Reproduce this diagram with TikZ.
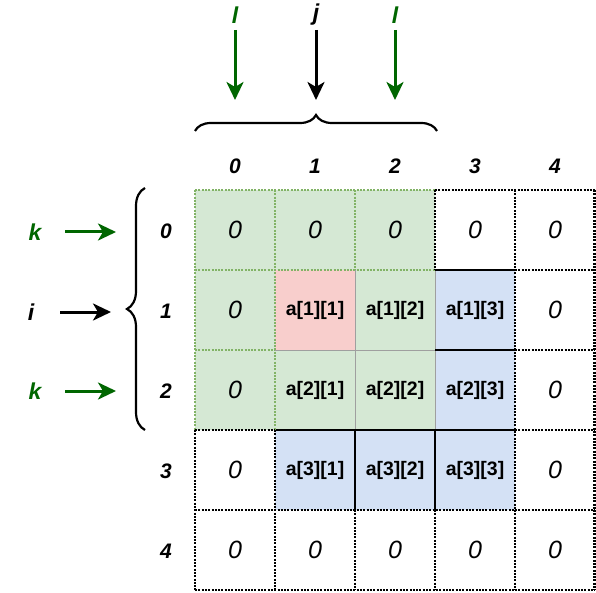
\documentclass[tikz,border=0pt]{standalone}
\usepackage{fontspec}
\setmainfont{Liberation Sans}
\usetikzlibrary{arrows.meta,decorations.pathreplacing}
\definecolor{dgreen}{HTML}{006600}
\definecolor{gfill}{HTML}{D5E8D4}
\definecolor{gline}{HTML}{82B366}
\definecolor{pfill}{HTML}{F8CECC}
\definecolor{bfill}{HTML}{D4E1F5}
\begin{document}
\begin{tikzpicture}[x=1pt,y=-1pt,
  cell/.style={minimum size=80pt, inner sep=0pt, outer sep=0pt, anchor=center},
  zero/.style={font=\fontsize{25}{30}\selectfont\itshape},
  aval/.style={font=\fontsize{19.5}{23}\selectfont\bfseries},
  idx/.style={font=\fontsize{21}{25}\selectfont\bfseries\itshape},
  var/.style={font=\fontsize{23}{27}\selectfont\bfseries\itshape},
  gd/.style={draw=gline, line width=2.6pt, dash pattern=on 2pt off 1.3pt},
  bd/.style={draw=black, line width=2.6pt, dash pattern=on 2pt off 1.3pt},
  bs/.style={draw=black, line width=1.8pt},
  gs/.style={draw=gray!75, line width=1pt},
  arr/.style={line width=3pt, -{Stealth[length=18pt,width=17pt,inset=5pt]}},
  brc/.style={line width=2.2pt, decorate, decoration={brace, amplitude=#1}}
]
\useasboundingbox (0,0) rectangle (596,593);
% white cells
\foreach \r/\c in {0/3,0/4,1/4,2/4,3/0,3/4,4/0,4/1,4/2,4/3,4/4}
  \node[cell, zero] (c\r\c) at ({235+80*\c},{230+80*\r}) {0};
% green cells with zeros
\foreach \r/\c in {0/0,0/1,0/2,1/0,2/0}
  \node[cell, zero, fill=gfill] (c\r\c) at ({235+80*\c},{230+80*\r}) {0};
% green value cells
\node[cell, aval, fill=gfill] (c12) at (395,310) {a[1][2]};
\node[cell, aval, fill=gfill] (c21) at (315,390) {a[2][1]};
\node[cell, aval, fill=gfill] (c22) at (395,390) {a[2][2]};
% pink
\node[cell, aval, fill=pfill] (c11) at (315,310) {a[1][1]};
% blue cells
\node[cell, aval, fill=bfill] (c13) at (475,310) {a[1][3]};
\node[cell, aval, fill=bfill] (c23) at (475,390) {a[2][3]};
\node[cell, aval, fill=bfill] (c31) at (315,470) {a[3][1]};
\node[cell, aval, fill=bfill] (c32) at (395,470) {a[3][2]};
\node[cell, aval, fill=bfill] (c33) at (475,470) {a[3][3]};
% thin gray borders
\path[gs] (275,350) -- (435,350) (355,270) -- (355,430) (435,270) -- (435,430);
% black solid borders
\path[bs] (435,270) -- (515,270) (435,350) -- (515,350) (275,430) -- (515,430)
          (355,430) -- (355,510) (435,430) -- (435,510);
% green dotted borders
\path[gd] (195,190) -- (435,190) (195,270) -- (435,270) (195,350) -- (275,350)
          (195,190) -- (195,430) (275,190) -- (275,430) (355,190) -- (355,270);
% black dotted borders
\path[bd] (435,190) -- (595,190) (515,270) -- (595,270) (515,350) -- (595,350)
          (195,430) -- (275,430) (515,430) -- (595,430) (195,510) -- (595,510)
          (195,590) -- (595,590)
          (435,190) -- (435,270) (515,190) -- (515,590) (594.7,190) -- (594.7,590)
          (195,430) -- (195,590) (275,430) -- (275,590) (355,510) -- (355,590)
          (435,510) -- (435,590);
% column indices
\foreach \c in {0,...,4}
  \node[idx] (col\c) at ({235+80*\c},166) {\c};
% row indices
\foreach \r in {0,...,4}
  \node[idx] (row\r) at (166,{231+80*\r}) {\r};
% top labels and arrows
\node[var, text=dgreen] (l1) at (235,15) {l};
\node[var] (j) at (316,15) {j};
\node[var, text=dgreen] (l2) at (395,15) {l};
\coordinate (l1s) at (235,30);
\coordinate (js) at (316,30);
\coordinate (l2s) at (395,30);
\coordinate (l1e) at (235,100);
\coordinate (je) at (316,100);
\coordinate (l2e) at (395,100);
\draw[arr, dgreen] (l1s) -- (l1e);
\draw[arr, black] (js) -- (je);
\draw[arr, dgreen] (l2s) -- (l2e);
% top brace
\coordinate (tb1) at (195,131);
\coordinate (tb2) at (437,131);
\draw[brc=16pt] (tb1) -- (tb2);
% left labels and arrows
\node[var, text=dgreen] (k1) at (35,232) {k};
\node[var] (i) at (31,312) {i};
\node[var, text=dgreen] (k2) at (35,391) {k};
\coordinate (k1s) at (65,232);
\coordinate (is) at (60,312);
\coordinate (k2s) at (65,391);
\coordinate (k1e) at (116,232);
\coordinate (ie) at (111,312);
\coordinate (k2e) at (116,391);
\draw[arr, dgreen] (k1s) -- (k1e);
\draw[arr, black] (is) -- (ie);
\draw[arr, dgreen] (k2s) -- (k2e);
% left brace
\coordinate (lb1) at (145,430);
\coordinate (lb2) at (145,188);
\draw[brc=18pt] (lb1) -- (lb2);
\end{tikzpicture}
\end{document}
